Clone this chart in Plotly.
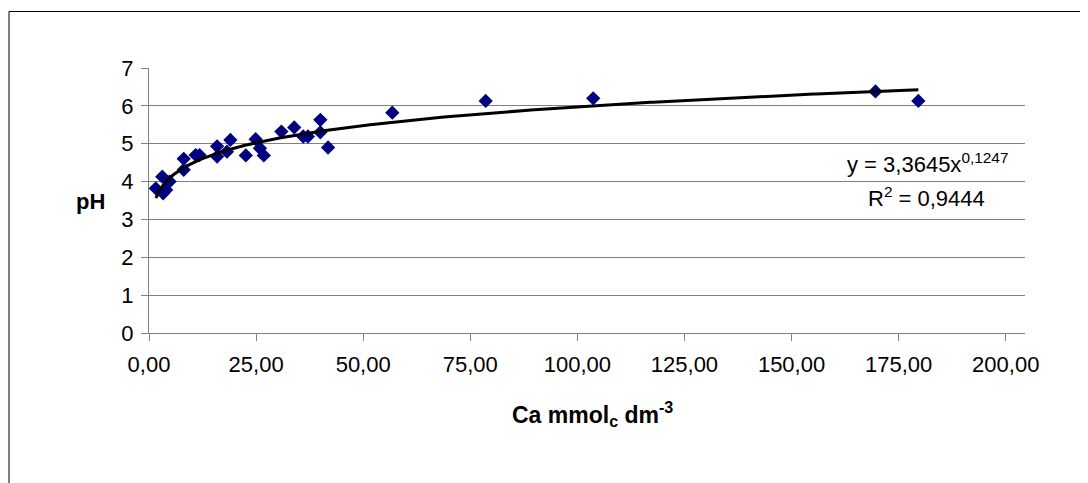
import numpy as np
import plotly.graph_objects as go

# Measured data (Ca mmol_c dm^-3, pH)
ca = [1.6, 3.1, 3.3, 4.0, 4.8, 8.1, 8.1, 10.9, 11.8, 15.9, 15.9, 18.2, 19.0,
      22.6, 24.9, 25.9, 26.8, 30.9, 33.9, 36.0, 37.1, 40.0, 40.0, 41.8,
      56.8, 78.6, 103.7, 169.6, 179.6]
ph = [3.82, 4.13, 3.69, 3.78, 4.00, 4.60, 4.31, 4.70, 4.70, 4.93, 4.66, 4.79, 5.10,
      4.69, 5.12, 4.88, 4.69, 5.32, 5.43, 5.19, 5.19, 5.63, 5.30, 4.90,
      5.82, 6.13, 6.20, 6.38, 6.13]

# Power trendline shown on the chart: y = 3,3645 x^0,1247
coef_a = 3.3645
coef_b = 0.1247
eq_text = "y = 3,3645x<sup>0,1247</sup>"
r2_text = "R<sup>2</sup> = 0,9444"

x_ticks = [0, 25, 50, 75, 100, 125, 150, 175, 200]
y_ticks = [0, 1, 2, 3, 4, 5, 6, 7]

trend_x = np.linspace(min(ca), max(ca), 300)
trend_y = coef_a * trend_x ** coef_b

FONT = "Liberation Sans, Arial, sans-serif"
GRID = "#808080"

fig = go.Figure()
fig.add_trace(go.Scatter(
    x=ca, y=ph, mode="markers",
    marker=dict(symbol="diamond", size=11, color="#000080", line=dict(width=0)),
    showlegend=False, hoverinfo="skip"))
fig.add_trace(go.Scatter(
    x=trend_x, y=trend_y, mode="lines",
    line=dict(color="black", width=3),
    showlegend=False, hoverinfo="skip"))

OFF = 8  # browser body margin
W, H = 1088 - OFF, 483 - OFF
L, R, T, B = 149, 1025, 68, 333
pw, ph_ = R - L, B - T

def px(xp):
    return (xp - L) / pw

def py(yp):
    return (B - yp) / ph_

fig.update_layout(
    width=W, height=H,
    margin=dict(l=L - OFF, r=1088 - R, t=T - OFF, b=483 - B, pad=0),
    paper_bgcolor="white", plot_bgcolor="white",
    separators=", ",
    font=dict(family=FONT, size=22, color="black"),
    xaxis=dict(range=[0, 204.5], tickvals=x_ticks, tickformat=".2f",
               showgrid=False, zeroline=False,
               showline=True, linecolor=GRID, linewidth=1,
               ticks="outside", ticklen=7, tickcolor=GRID, tickwidth=1,
               ticklabelstandoff=5,
               tickfont=dict(family=FONT, size=22, color="black")),
    yaxis=dict(range=[0, 7], tickvals=y_ticks, tickformat="d",
               showgrid=True, gridcolor=GRID, gridwidth=1, zeroline=False,
               showline=True, linecolor=GRID, linewidth=1,
               ticks="outside", ticklen=7, tickcolor=GRID, tickwidth=1,
               ticklabelstandoff=3,
               tickfont=dict(family=FONT, size=22, color="black")),
    shapes=[dict(type="rect", xref="paper", yref="paper",
                 x0=px(9), x1=px(1110), y0=py(510), y1=py(11.5),
                 line=dict(color="black", width=1), fillcolor="rgba(0,0,0,0)",
                 layer="below")],
    annotations=[
        dict(text="<b>Ca mmol<sub>c</sub> dm<sup>-3</sup></b>", xref="paper", yref="paper",
             x=px(592), y=py(414), xanchor="center", yanchor="middle",
             showarrow=False, font=dict(family=FONT, size=23, color="black")),
        dict(text="<b>pH</b>", xref="paper", yref="paper",
             x=px(90), y=py(201), xanchor="center", yanchor="middle",
             showarrow=False, font=dict(family=FONT, size=22, color="black")),
        dict(text=eq_text, xref="paper", yref="paper",
             x=px(927), y=py(163), xanchor="center", yanchor="middle",
             showarrow=False, font=dict(family=FONT, size=22, color="black")),
        dict(text=r2_text, xref="paper", yref="paper",
             x=px(926), y=py(197), xanchor="center", yanchor="middle",
             showarrow=False, font=dict(family=FONT, size=22, color="black")),
    ],
)

fig.write_html("out.html")
